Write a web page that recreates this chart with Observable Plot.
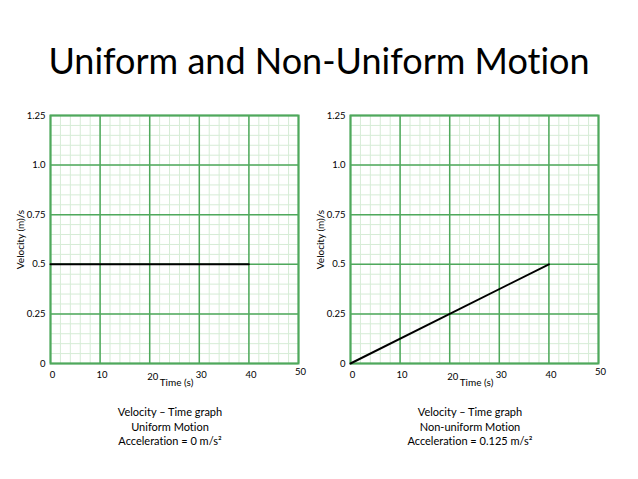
<!DOCTYPE html>
<html>
<head>
<meta charset="utf-8">
<script src="https://cdn.jsdelivr.net/npm/d3@7"></script>
<script src="https://cdn.jsdelivr.net/npm/@observablehq/plot@0.6"></script>
<style>
  body { margin: 0; background: #fff; font-family: Lato, "Open Sans", sans-serif; font-variant-ligatures: none; }
  #page { position: relative; width: 638px; height: 479px; overflow: hidden; }
  #title { position: absolute; left: 0; top: 42px; width: 638px; text-align: center;
           font-size: 36px; line-height: 36px; color: #000; }
  .chart { position: absolute; top: 100px; }
  .caption { position: absolute; top: 405px; width: 300px; text-align: center;
             font-size: 11px; line-height: 14.5px; color: #000; }
  svg text { font-variant-ligatures: none; }
</style>
</head>
<body>
<div id="page">
  <div id="title">Uniform and Non-Uniform Motion</div>
  <div class="chart" id="left" style="left:0px"></div>
  <div class="chart" id="right" style="left:300px"></div>
  <div class="caption" style="left:20px">Velocity – Time graph<br>Uniform Motion<br>Acceleration = 0 m/s²</div>
  <div class="caption" style="left:320px">Velocity – Time graph<br>Non-uniform Motion<br>Acceleration = 0.125 m/s²</div>
</div>
<script>
// axis ticks
var timeTicks = [0, 10, 20, 30, 40, 50];
var velocityTicks = [0, 0.25, 0.5, 0.75, 1.0, 1.25];
var velocityTickLabels = ["0", "0.25", "0.5", "0.75", "1.0", "1.25"];

// series
var uniformTime = [0, 40];
var uniformVelocity = [0.5, 0.5];
var nonUniformTime = [0, 40];
var nonUniformVelocity = [0, 0.5];

// graph paper: minor lines every 2 s and every 0.05 m/s
var minorTime = d3.range(0, 50.001, 2);
var minorVelocity = d3.range(0, 1.2501, 0.05);

var majorGreen = "#4fa85c";
var minorGreen = "#d6ecd6";

function graph(time, velocity) {
  var points = time.map(function(t, i) { return {t: t, v: velocity[i]}; });
  return Plot.plot({
    width: 319,
    height: 300,
    marginLeft: 50,
    marginRight: 21,
    marginTop: 15,
    marginBottom: 37,
    x: {domain: [0, 50]},
    y: {domain: [0, 1.25]},
    style: {fontFamily: "Lato, 'Open Sans', sans-serif", fontSize: "9.5px", color: "#000", background: "transparent"},
    marks: [
      Plot.ruleX(minorTime, {x: function(d) { return d; }, stroke: minorGreen, strokeWidth: 1}),
      Plot.ruleY(minorVelocity, {y: function(d) { return d; }, stroke: minorGreen, strokeWidth: 1}),
      Plot.ruleX(timeTicks, {x: function(d) { return d; }, stroke: majorGreen, strokeWidth: 1.5}),
      Plot.ruleY(velocityTicks, {y: function(d) { return d; }, stroke: majorGreen, strokeWidth: 1.5}),
      Plot.frame({stroke: majorGreen, strokeWidth: 2}),
      // x tick labels sit a little unevenly in the original
      Plot.axisX([0, 10, 30, 40], {tickSize: 0, tickPadding: 8, dx: 2, label: null}),
      Plot.axisX([20], {tickSize: 0, tickPadding: 10, dx: 3, label: null}),
      Plot.axisX([50], {tickSize: 0, tickPadding: 5, dx: 2, label: null}),
      Plot.axisY(velocityTicks, {
        tickSize: 0, tickPadding: 5, label: null,
        tickFormat: function(d) { return velocityTickLabels[velocityTicks.indexOf(d)]; }
      }),
      Plot.text(["Time (s)"], {frameAnchor: "bottom", dy: 22, dx: 2, fontSize: 10}),
      Plot.text(["Velocity (m)/s"], {frameAnchor: "left", textAnchor: "middle", dx: -30, rotate: -90, fontSize: 10}),
      Plot.line(points, {x: "t", y: "v", stroke: "#000", strokeWidth: 2})
    ]
  });
}

document.getElementById("left").appendChild(graph(uniformTime, uniformVelocity));
document.getElementById("right").appendChild(graph(nonUniformTime, nonUniformVelocity));
</script>
</body>
</html>
